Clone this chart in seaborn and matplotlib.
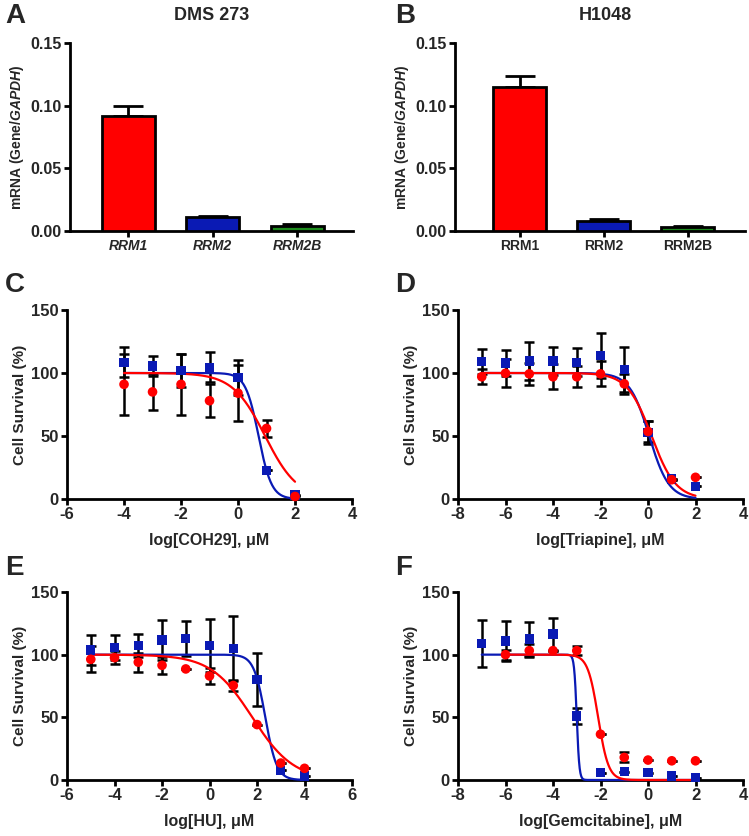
import numpy as np
import pandas as pd
import seaborn as sns
import matplotlib.pyplot as plt

sns.set_theme(style='ticks')
plt.rcParams['font.family'] = ['Liberation Sans', 'DejaVu Sans']
plt.rcParams['font.weight'] = 'bold'
plt.rcParams['axes.labelweight'] = 'bold'
plt.rcParams['axes.unicode_minus'] = False
plt.rcParams['mathtext.fontset'] = 'custom'
plt.rcParams['mathtext.it'] = 'Liberation Sans:italic:bold'
plt.rcParams['mathtext.rm'] = 'Liberation Sans:bold'

RED = '#ff0000'
BLUE = '#0a1ab4'
GREEN = '#1e8c1e'

# --- qPCR bars (A, B) ---
genes = ['RRM1', 'RRM2', 'RRM2B']
dms_mean = [0.092, 0.011, 0.004]
dms_sd = [0.0075, 0.0012, 0.0012]
h1048_mean = [0.115, 0.008, 0.003]
h1048_sd = [0.0085, 0.0012, 0.001]

# --- dose response (C-F); red = circles, blue = squares ---
coh_x = [-4, -3, -2, -1, 0, 1, 2]
coh_red = [91, 85, 91, 78, 84, 56, 2]
coh_red_sd = [24, 14, 24, 13, 22, 7, 0]
coh_blue = [108.5, 105.6, 102, 104.6, 96.6, 22.7, 3.2]
coh_blue_sd = [12, 8, 13, 12, 14, 0, 0]

tri_x = [-7, -6, -5, -4, -3, -2, -1, 0, 1, 2]
tri_red = [97, 99.8, 99.3, 97, 97, 99.3, 91.4, 53.6, 15.3, 17.2]
tri_red_sd = [6, 11, 9, 10, 8.5, 10, 8, 8, 0, 0]
tri_blue = [109, 108, 109.6, 109.6, 108.5, 113.8, 103, 53, 15.8, 10]
tri_blue_sd = [10, 10, 15, 11, 11, 18, 18, 9, 0, 0]

hu_x = [-5, -4, -3, -2, -1, 0, 1, 2, 3, 4]
hu_red = [96.3, 97.6, 94, 91.5, 88.6, 83, 75.4, 44.2, 13.5, 9.3]
hu_red_sd = [10.5, 5, 7.5, 7, 0, 6.5, 4.5, 0, 0, 0]
hu_blue = [103.7, 105.8, 107.4, 111.6, 112.7, 107.4, 105, 80, 7.7, 3.2]
hu_blue_sd = [12, 10, 9, 16, 14, 21, 26, 21, 0, 0]

gem_red_x = [-6, -5, -4, -3, -2, -1, 0, 1, 2]
gem_red = [100, 103.2, 103.2, 103.2, 36.5, 18, 15.9, 15.3, 15.3]
gem_red_sd = [4, 5, 0, 3.5, 0, 4, 0, 0, 0]
gem_blue_x = [-7, -6, -5, -4, -3, -2, -1, 0, 1, 2]
gem_blue = [109, 111, 112.4, 116.4, 51, 5.8, 6.6, 5.8, 3.2, 1.9]
gem_blue_sd = [19, 16, 13.6, 13, 6.4, 0, 0, 0, 0, 0]

# fitted curve parameters (log IC50, hill slope, x start, x end)
coh_fit = {'red': (0.95, 0.76, -4, 2), 'blue': (0.72, 1.9, -4, 2)}
tri_fit = {'red': (0.15, 0.85, -7, 2), 'blue': (0.05, 1.05, -7, 2)}
hu_fit = {'red': (1.8, 0.5, -5, 4), 'blue': (2.35, 1.8, -5, 4)}
gem_fit = {'red': (-2.1, 2.0, -6, 2), 'blue': (-3.0, 8.0, -7, 2)}

fig = plt.figure(figsize=(7.49, 8.36), dpi=100)


def style_axes(ax, xsize=12, ysize=12):
    sns.despine(ax=ax)
    for s in ['left', 'bottom']:
        ax.spines[s].set_linewidth(2)
        ax.spines[s].set_color('black')
    ax.tick_params(width=2, length=4, color='black', pad=2)
    ax.tick_params(axis='x', labelsize=xsize)
    ax.tick_params(axis='y', labelsize=ysize)
    for lab in ax.get_xticklabels() + ax.get_yticklabels():
        lab.set_fontweight('bold')


def bar_panel(rect, means, sds, xlim, italic):
    ax = fig.add_axes(rect)
    df = pd.DataFrame({'gene': genes, 'val': means})
    sns.barplot(data=df, x='gene', y='val', hue='gene', palette=[RED, BLUE, GREEN],
                saturation=1, width=0.63, edgecolor='black', linewidth=2, legend=False,
                ax=ax, zorder=3)
    ax.errorbar(range(3), means, yerr=[np.zeros(3), sds], fmt='none', ecolor='black',
                elinewidth=2, capsize=11, capthick=2, zorder=2)
    ax.set_xlim(*xlim)
    ax.set_ylim(0, 0.15)
    ax.set_yticks([0, 0.05, 0.10, 0.15])
    ax.set_yticklabels(['0.00', '0.05', '0.10', '0.15'])
    ax.set_xlabel('')
    ax.set_ylabel(r'mRNA (Gene/$\it{GAPDH}$)', fontsize=10, labelpad=3)
    style_axes(ax, 10, 11.5)
    if italic:
        for lab in ax.get_xticklabels():
            lab.set_fontstyle('italic')
    return ax


def dose_panel(rect, xr, xlab, red_x, red_y, red_sd, blue_x, blue_y, blue_sd, fit):
    ax = fig.add_axes(rect)
    for col, key in [(BLUE, 'blue'), (RED, 'red')]:
        c, h, x0, x1 = fit[key]
        xs = np.linspace(x0, x1, 300)
        ys = 100 / (1 + 10 ** ((xs - c) * h))
        sns.lineplot(x=xs, y=ys, color=col, lw=1.6, ax=ax, zorder=3)
    ax.errorbar(blue_x, blue_y, yerr=blue_sd, fmt='none', ecolor='black', elinewidth=1.8,
                capsize=3.5, capthick=1.8, zorder=2, clip_on=False)
    ax.errorbar(red_x, red_y, yerr=red_sd, fmt='none', ecolor='black', elinewidth=1.8,
                capsize=3.5, capthick=1.8, zorder=2, clip_on=False)
    sns.scatterplot(x=blue_x, y=blue_y, marker='s', color=BLUE, s=45, edgecolor='none',
                    ax=ax, zorder=4, clip_on=False)
    sns.scatterplot(x=red_x, y=red_y, marker='o', color=RED, s=48, edgecolor='none',
                    ax=ax, zorder=5, clip_on=False)
    for ln in ax.lines:
        ln.set_clip_on(False)
    ax.set_xlim(*xr)
    ax.set_ylim(0, 150)
    ax.set_xticks(np.arange(xr[0], xr[1] + 1, 2))
    ax.set_yticks([0, 50, 100, 150])
    ax.set_xlabel(xlab, fontsize=11.5, labelpad=8)
    ax.set_ylabel('Cell Survival (%)', fontsize=11, labelpad=3)
    style_axes(ax, 12, 12)
    return ax


axA = bar_panel([0.0935, 0.7237, 0.378, 0.2249], dms_mean, dms_sd, (-0.69, 2.66), True)
axB = bar_panel([0.6075, 0.7237, 0.387, 0.2249], h1048_mean, h1048_sd, (-0.77, 2.68), False)
fig.text(0.283, 0.982, 'DMS 273', ha='center', va='center', fontsize=13, fontweight='bold')
fig.text(0.808, 0.982, 'H1048', ha='center', va='center', fontsize=13, fontweight='bold')

dose_panel([0.0895, 0.4031, 0.3805, 0.2261], (-6, 4), 'log[COH29], μM',
           coh_x, coh_red, coh_red_sd, coh_x, coh_blue, coh_blue_sd, coh_fit)
dose_panel([0.6115, 0.4031, 0.3805, 0.2261], (-8, 4), 'log[Triapine], μM',
           tri_x, tri_red, tri_red_sd, tri_x, tri_blue, tri_blue_sd, tri_fit)
dose_panel([0.0895, 0.0670, 0.3805, 0.2249], (-6, 6), 'log[HU], μM',
           hu_x, hu_red, hu_red_sd, hu_x, hu_blue, hu_blue_sd, hu_fit)
dose_panel([0.6115, 0.0670, 0.3805, 0.2249], (-8, 4), 'log[Gemcitabine], μM',
           gem_red_x, gem_red, gem_red_sd, gem_blue_x, gem_blue, gem_blue_sd, gem_fit)

for letter, x, y in [('A', 0.007, 0.981), ('B', 0.527, 0.981), ('C', 0.007, 0.659),
                     ('D', 0.527, 0.659), ('E', 0.007, 0.321), ('F', 0.527, 0.321)]:
    fig.text(x, y, letter, ha='left', va='center', fontsize=20, fontweight='bold')

fig.savefig('out.png', dpi=100)
